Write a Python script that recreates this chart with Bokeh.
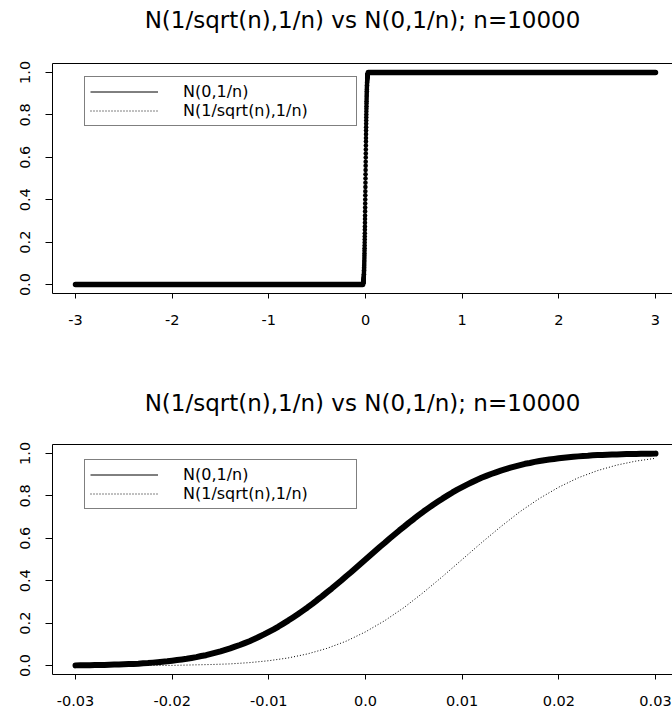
from bokeh.plotting import figure
from bokeh.models import Range1d, FixedTicker, LinearAxis, Legend, LegendItem
from bokeh.layouts import column
from bokeh.embed import file_html
from bokeh.resources import INLINE
import numpy as np

TITLE = "N(1/sqrt(n),1/n) vs N(0,1/n); n=10000"
LABEL_NULL = "N(0,1/n)"
LABEL_ALT = "N(1/sqrt(n),1/n)"

# sample grid for the N(0,1/n) cdf, -0.03 .. 0.03 in steps of 0.0005
solid_x = np.round(np.linspace(-0.03, 0.03, 121), 4).tolist()
solid_y = [
    0.001, 0.002, 0.002, 0.002, 0.003, 0.003, 0.003, 0.004, 0.005, 0.005,
    0.006, 0.007, 0.008, 0.009, 0.011, 0.012, 0.014, 0.016, 0.018, 0.020,
    0.023, 0.026, 0.029, 0.032, 0.036, 0.040, 0.045, 0.049, 0.055, 0.061,
    0.067, 0.074, 0.081, 0.089, 0.097, 0.106, 0.115, 0.125, 0.136, 0.147,
    0.159, 0.171, 0.184, 0.198, 0.212, 0.227, 0.242, 0.258, 0.274, 0.291,
    0.309, 0.326, 0.345, 0.363, 0.382, 0.401, 0.421, 0.440, 0.460, 0.480,
    0.500,
    0.520, 0.540, 0.560, 0.579, 0.599, 0.618, 0.637, 0.655, 0.674, 0.691,
    0.709, 0.726, 0.742, 0.758, 0.773, 0.788, 0.802, 0.816, 0.829, 0.841,
    0.853, 0.864, 0.875, 0.885, 0.894, 0.903, 0.911, 0.919, 0.926, 0.933,
    0.939, 0.945, 0.951, 0.955, 0.960, 0.964, 0.968, 0.971, 0.974, 0.977,
    0.980, 0.982, 0.984, 0.986, 0.988, 0.989, 0.991, 0.992, 0.993, 0.994,
    0.995, 0.995, 0.996, 0.997, 0.997, 0.997, 0.998, 0.998, 0.998, 0.999,
]

# N(1/sqrt(n),1/n) cdf, -0.03 .. 0.04 in steps of 0.002
dotted_x = np.round(np.linspace(-0.03, 0.04, 36), 3).tolist()
dotted_y = [
    0.000, 0.000, 0.000, 0.000, 0.001, 0.001, 0.003, 0.005, 0.008, 0.014,
    0.023, 0.036, 0.055, 0.081, 0.115, 0.159, 0.212, 0.274, 0.345, 0.421,
    0.500, 0.579, 0.655, 0.726, 0.788, 0.841, 0.885, 0.919, 0.945, 0.964,
    0.977, 0.986, 0.992, 0.995, 0.997, 0.999,
]
dotted_n_short = 31  # points up to x = 0.03

# wide panel domain and the cdf limits at its ends
wide_x = [-3, 3]
wide_y = [0, 1]

top_ticks = [-3, -2, -1, 0, 1, 2, 3]
top_labels = ["-3", "-2", "-1", "0", "1", "2", "3"]
bot_ticks = [-0.03, -0.02, -0.01, 0.0, 0.01, 0.02, 0.03]
bot_labels = ["-0.03", "-0.02", "-0.01", "0.0", "0.01", "0.02", "0.03"]
y_ticks = [0.0, 0.2, 0.4, 0.6, 0.8, 1.0]
y_labels = ["0.0", "0.2", "0.4", "0.6", "0.8", "1.0"]

FONT = "DejaVu Sans"


def base_panel(height, xr, top, bottom, ticks, labels, title_gap):
    p = figure(width=672, height=height, x_range=xr, y_range=Range1d(-0.042, 1.042),
               output_backend="svg", toolbar_location=None,
               min_border_left=52, min_border_right=0,
               min_border_top=top, min_border_bottom=bottom)
    p.outline_line_color = None
    p.grid.visible = False
    p.background_fill_color = "white"
    p.border_fill_color = "white"

    p.title.text = TITLE
    p.title.align = "center"
    p.title.text_font = FONT
    p.title.text_font_size = "23px"
    p.title.text_font_style = "normal"
    p.title.text_color = "black"
    p.title.standoff = 4

    xa = p.xaxis[0]
    xa.ticker = FixedTicker(ticks=ticks)
    xa.major_label_overrides = dict(zip(ticks, labels))
    xa.minor_tick_line_color = None
    xa.major_tick_in = 0
    xa.major_tick_out = 5
    xa.major_label_standoff = 16
    xa.major_label_text_font = FONT
    xa.major_label_text_font_size = "14.5px"
    xa.major_label_text_color = "black"
    xa.axis_line_color = "black"

    ya = p.yaxis[0]
    ya.ticker = FixedTicker(ticks=y_ticks)
    ya.major_label_overrides = dict(zip(y_ticks, y_labels))
    ya.minor_tick_line_color = None
    ya.major_tick_in = 0
    ya.major_tick_out = 7
    ya.major_label_standoff = 15
    ya.major_label_orientation = "vertical"
    ya.major_label_text_font = FONT
    ya.major_label_text_font_size = "14.5px"
    ya.major_label_text_color = "black"
    ya.axis_line_color = "black"

    # top edge of the plot box; a transparent tick gives it the height that
    # keeps the title well above the box
    top_edge = LinearAxis(ticker=FixedTicker(ticks=[ticks[0]]),
                          major_label_overrides={ticks[0]: ""},
                          major_tick_out=title_gap, major_tick_in=0,
                          major_tick_line_alpha=0.0,
                          minor_tick_line_color=None, major_label_text_font_size="1px",
                          major_label_standoff=0, axis_line_color="black")
    p.add_layout(top_edge, "above")
    return p


def add_legend(p, solid_r, dotted_r, loc):
    legend = Legend(items=[LegendItem(label=LABEL_NULL, renderers=[solid_r]),
                           LegendItem(label=LABEL_ALT, renderers=[dotted_r])],
                    location=loc, margin=0, padding=5, spacing=0,
                    glyph_width=68, glyph_height=17, label_height=17, label_width=168,
                    label_standoff=25, label_text_font=FONT, label_text_font_size="16px",
                    label_text_color="black", border_line_color="black", border_line_width=1,
                    background_fill_color="white", background_fill_alpha=1.0)
    p.add_layout(legend)


# ---- upper panel: x over [-3, 3] ----
p1 = base_panel(383, Range1d(-3.238, 3.176), 63, 90, top_ticks, top_labels, 29)
tx = [wide_x[0]] + solid_x + [wide_x[1]]
ty = [wide_y[0]] + solid_y + [wide_y[1]]
dx = [wide_x[0]] + dotted_x + [wide_x[1]]
dy = [wide_y[0]] + dotted_y + [wide_y[1]]

dot1 = p1.line(dx, dy, line_color="black", line_width=1, line_dash="1 2")
thin1 = p1.line(tx, ty, line_color="black", line_width=1)
p1.line(tx[:2], ty[:2], line_color="black", line_width=5.5, line_cap="round")
p1.line(tx[-2:], ty[-2:], line_color="black", line_width=5.5, line_cap="round")
p1.scatter(tx[1:-1], ty[1:-1], size=4.6, marker="circle", fill_color="black", line_color=None)
add_legend(p1, thin1, dot1, (32, 167))

# ---- lower panel: x over [-0.03, 0.03] ----
p2 = base_panel(325, Range1d(-0.03238, 0.03176), 61, 34, bot_ticks, bot_labels, 27)
dot2 = p2.line(dotted_x[:dotted_n_short], dotted_y[:dotted_n_short],
               line_color="black", line_width=1, line_dash="1 2")
p2.line(solid_x, solid_y, line_color="black", line_width=6, line_cap="round", line_join="round")
thin2 = p2.line(solid_x, solid_y, line_color="black", line_width=1)
add_legend(p2, thin2, dot2, (32, 165))

layout = column(p1, p2, spacing=0)
open("out.html", "w").write(file_html(layout, INLINE))
